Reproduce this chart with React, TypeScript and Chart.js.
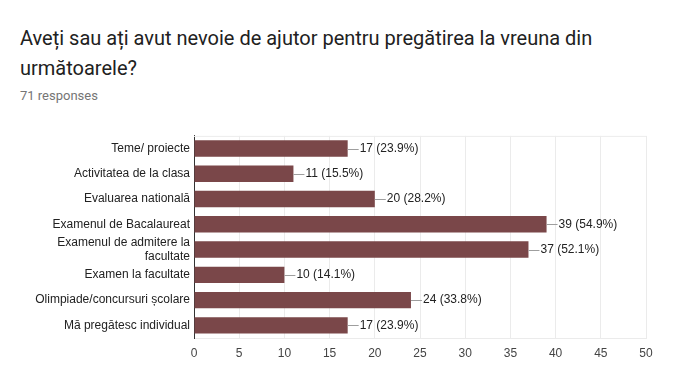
import React, { useEffect, useRef } from "react";
import { Chart, registerables } from "chart.js";

Chart.register(...registerables);

const categories: (string | string[])[] = [
  "Teme/ proiecte",
  "Activitatea de la clasa",
  "Evaluarea nationalā",
  "Examenul de Bacalaureat",
  ["Examenul de admitere la", "facultate"],
  "Examen la facultate",
  "Olimpiade/concursuri școlare",
  "Mā pregātesc individual",
];
const counts = [17, 11, 20, 39, 37, 10, 24, 17];
const percents = ["23.9%", "15.5%", "28.2%", "54.9%", "52.1%", "14.1%", "33.8%", "23.9%"];
const xTicks = [0, 5, 10, 15, 20, 25, 30, 35, 40, 45, 50];

const FONT = "Roboto, Arial, sans-serif";
const CFONT = "'Liberation Sans', Arial, sans-serif";

export default function App() {
  const ref = useRef<HTMLCanvasElement | null>(null);

  useEffect(() => {
    document.body.style.margin = "0";
    const labelPlugin = {
      id: "leaderLabels",
      beforeDatasetsDraw(chart: any) {
        const { ctx, chartArea } = chart;
        ctx.save();
        ctx.strokeStyle = "#ececec";
        ctx.lineWidth = 1;
        ctx.beginPath();
        ctx.moveTo(chartArea.left, chartArea.top + 0.5);
        ctx.lineTo(chartArea.right, chartArea.top + 0.5);
        ctx.stroke();
        ctx.restore();
      },
      afterDatasetsDraw(chart: any) {
        const { ctx } = chart;
        const meta = chart.getDatasetMeta(0);
        ctx.save();
        ctx.font = `12px ${CFONT}`;
        ctx.textBaseline = "middle";
        ctx.textAlign = "left";
        meta.data.forEach((bar: any, i: number) => {
          const x = bar.x;
          const y = Math.round(bar.y) + 0.5;
          ctx.strokeStyle = "#9e9e9e";
          ctx.lineWidth = 1;
          ctx.beginPath();
          ctx.moveTo(x, y);
          ctx.lineTo(x + 11, y);
          ctx.stroke();
          ctx.fillStyle = "#222222";
          ctx.fillText(`${counts[i]} (${percents[i]})`, x + 12, bar.y);
        });
        ctx.restore();
      },
    };

    const chart = new Chart(ref.current!, {
      type: "bar",
      data: {
        labels: categories,
        datasets: [
          {
            data: counts,
            backgroundColor: "#7a4749",
            barPercentage: 0.65,
            categoryPercentage: 1,
          },
        ],
      },
      options: {
        indexAxis: "y",
        animation: false,
        responsive: false,
        maintainAspectRatio: false,
        layout: { padding: { top: 10, right: 33, left: 0, bottom: 0 } },
        plugins: {
          legend: { display: false },
          tooltip: { enabled: false },
        },
        scales: {
          x: {
            min: 0,
            max: 50,
            afterBuildTicks(scale: any) {
              scale.ticks = xTicks.map((v) => ({ value: v }));
            },
            afterFit(scale: any) {
              scale.height = 37;
            },
            grid: { color: "#ebebeb", drawTicks: false },
            border: { color: "#ebebeb" },
            ticks: {
              padding: 8,
              color: "#444444",
              autoSkip: false,
              maxRotation: 0,
              font: { family: CFONT, size: 12 },
            },
          },
          y: {
            afterFit(scale: any) {
              scale.width = 194;
            },
            grid: { display: false, drawTicks: false },
            border: { color: "#333333", width: 1 },
            ticks: {
              padding: 4,
              color: "#222222",
              autoSkip: false,
              font: { family: CFONT, size: 12, lineHeight: 1.15 },
            },
          },
        },
      },
      plugins: [labelPlugin],
    });
    return () => chart.destroy();
  }, []);

  return (
    <div style={{ position: "relative", width: 679, height: 391, background: "#fff", fontFamily: FONT }}>
      <div
        style={{
          position: "absolute",
          left: 20,
          top: 23,
          width: 640,
          fontSize: 20,
          lineHeight: "30px",
          color: "#212121",
        }}
      >
        Aveți sau ați avut nevoie de ajutor pentru pregătirea la vreuna din următoarele?
      </div>
      <div
        style={{
          position: "absolute",
          left: 20,
          top: 88,
          fontSize: 13,
          lineHeight: "16px",
          color: "#757575",
        }}
      >
        71 responses
      </div>
      <canvas
        ref={ref}
        width={679}
        height={250}
        style={{ position: "absolute", left: 0, top: 125, width: 679, height: 250 }}
      />
    </div>
  );
}
